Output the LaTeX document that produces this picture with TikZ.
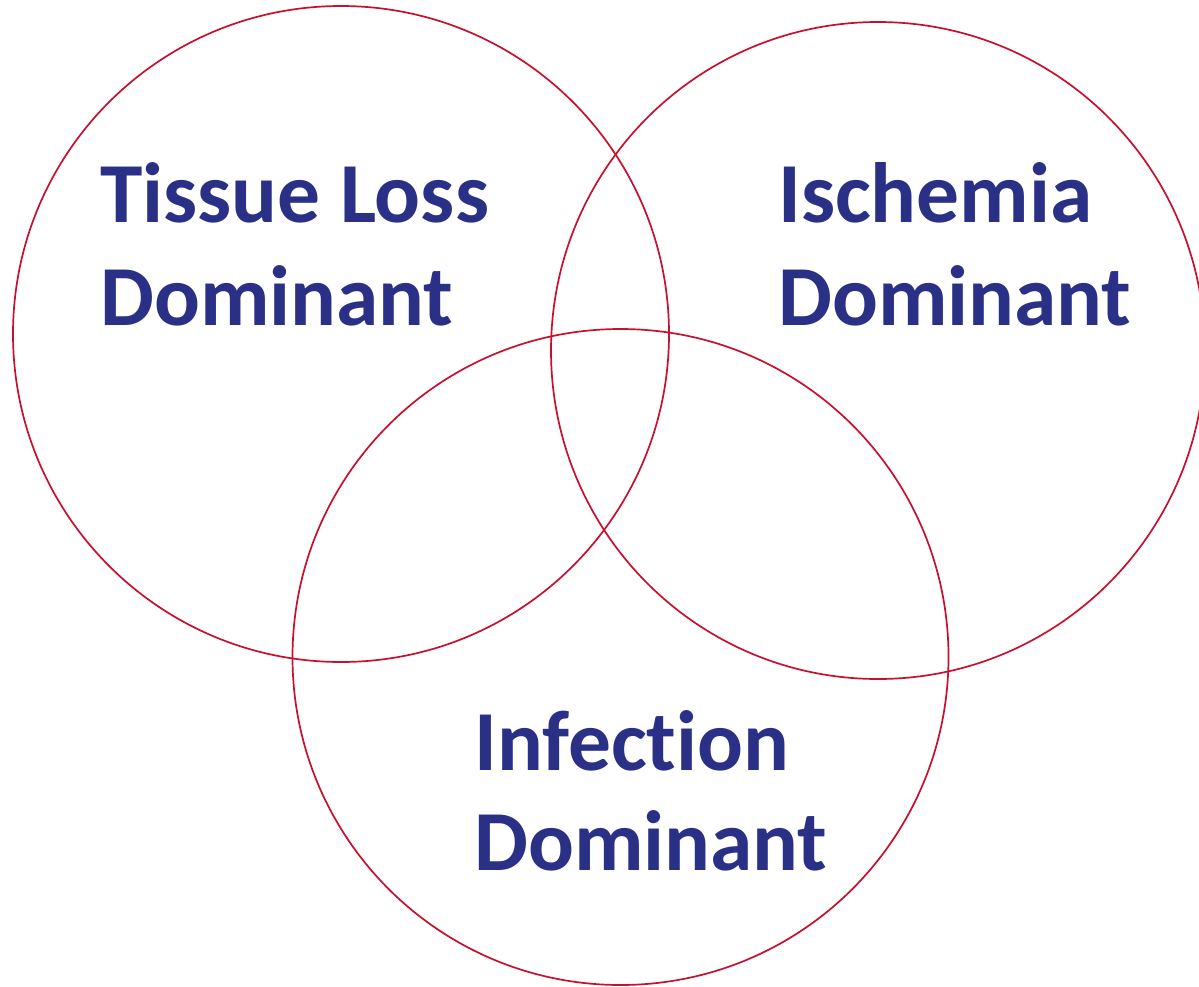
\documentclass[tikz,border=0pt]{standalone}
\usepackage{fontspec}
\setmainfont[Ligatures=NoCommon]{Carlito}
\definecolor{ringred}{HTML}{C8102E}
\definecolor{labelblue}{HTML}{2B3087}
\begin{document}
\begin{tikzpicture}[x=1pt,y=-1pt,
  ring/.style={draw=ringred,line width=1.7pt},
  lbl/.style={anchor=base west,inner sep=0pt,text=labelblue,font=\fontsize{85.5}{103}\selectfont\bfseries}]
\useasboundingbox (0,0) rectangle (1199,986);
\clip (0,0) rectangle (1199,986);
\draw[ring] (341,334) ellipse [x radius=328,y radius=328];
\draw[ring] (878,350.5) ellipse [x radius=327,y radius=328.5];
\draw[ring] (620.5,657) ellipse [x radius=328,y radius=328];
\node[lbl] (t1) at (100,222) {Tissue Loss};
\node[lbl] (t2) at (100,325) {Dominant};
\node[lbl] (i1) at (778,222) {Ischemia};
\node[lbl] (i2) at (778,325) {Dominant};
\node[lbl] (f1) at (474,770) {Infection};
\node[lbl] (f2) at (474,870) {Dominant};
\end{tikzpicture}
\end{document}
